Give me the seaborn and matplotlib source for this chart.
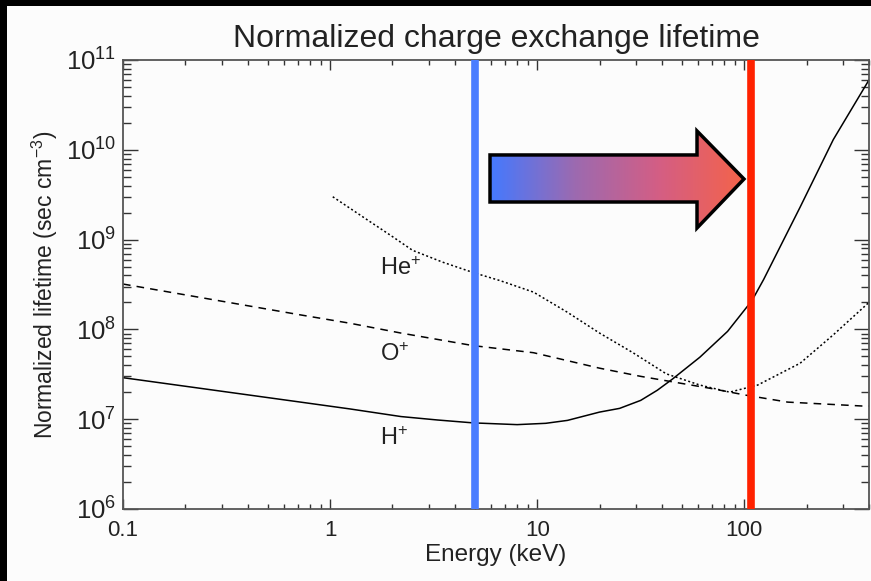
import numpy as np
import pandas as pd
import matplotlib
matplotlib.use("Agg")
import matplotlib.pyplot as plt
import seaborn as sns
from matplotlib.patches import Polygon, Rectangle
from matplotlib.colors import LinearSegmentedColormap

# ---------------- data ----------------
energy_h = [0.1, 0.72, 1.25, 2.2, 3.3, 4.9, 8.0, 11, 14, 20, 25, 31.6, 38, 45, 61, 83, 109, 124,
            186, 269, 400]
life_h = [2.9e7, 1.55e7, 1.3e7, 1.07e7, 9.8e6, 9.1e6, 8.7e6, 9.0e6, 9.7e6, 1.2e7, 1.32e7, 1.62e7,
          2.1e7, 2.8e7, 4.9e7, 9.5e7, 2.1e8, 3.6e8, 2.3e9, 1.3e10, 6.0e10]

energy_o = [0.1, 0.72, 1.25, 2.2, 4.9, 9.6, 20, 31.6, 50, 69, 102, 162, 376, 400]
life_o = [3.2e8, 1.45e8, 1.17e8, 9.1e7, 6.6e7, 5.5e7, 3.7e7, 3.0e7, 2.5e7, 2.2e7, 1.85e7,
          1.55e7, 1.4e7, 1.4e7]

energy_he = [1.03, 1.5, 2.0, 2.5, 3.5, 4.9, 6.6, 9.6, 14, 20, 29, 42, 61, 85, 116, 186, 269, 400]
life_he = [3.0e9, 1.68e9, 1.08e9, 7.6e8, 5.6e8, 4.3e8, 3.5e8, 2.6e8, 1.55e8, 9.1e7, 5.5e7,
           3.2e7, 2.4e7, 2.0e7, 2.4e7, 4.2e7, 8.7e7, 2.0e8]

ion_labels = ["He$^{+}$", "O$^{+}$", "H$^{+}$"]
label_x = [1.75, 1.75, 1.75]
label_y = [4.0e8, 4.4e7, 5.1e6]

vline_energy = [5.0, 108.0]
vline_colors = ["#4a7dff", "#ff2200"]

x_ticks = [0.1, 1, 10, 100]
x_ticklabels = ["0.1", "1", "10", "100"]
y_ticks = [1e6, 1e7, 1e8, 1e9, 1e10, 1e11]
y_ticklabels = ["$10^{6}$", "$10^{7}$", "$10^{8}$", "$10^{9}$", "$10^{10}$", "$10^{11}$"]

# ---------------- style ----------------
sns.set_style("ticks")
plt.rcParams["font.family"] = ["Liberation Sans", "DejaVu Sans"]
plt.rcParams["mathtext.fontset"] = "custom"
plt.rcParams["mathtext.rm"] = "Liberation Sans"
plt.rcParams["mathtext.it"] = "Liberation Sans"
plt.rcParams["mathtext.bf"] = "Liberation Sans"

W, H = 871, 581
fig = plt.figure(figsize=(W / 100, H / 100), dpi=100, facecolor="#fcfcfc")
# black frame on the left / top
fig.patches.append(Rectangle((0, 0), 7 / W, 1, transform=fig.transFigure,
                             facecolor="black", edgecolor="none", zorder=-5))
fig.patches.append(Rectangle((0, 1 - 6 / H), 1, 6 / H, transform=fig.transFigure,
                             facecolor="black", edgecolor="none", zorder=-5))

ax = fig.add_axes([123 / W, 1 - 509 / H, (869 - 123) / W, (509 - 60) / H])
ax.set_facecolor("#fcfcfc")

df_h = pd.DataFrame({"energy": energy_h, "lifetime": life_h})
df_o = pd.DataFrame({"energy": energy_o, "lifetime": life_o})
df_he = pd.DataFrame({"energy": energy_he, "lifetime": life_he})

sns.lineplot(data=df_h, x="energy", y="lifetime", ax=ax, color="black", lw=1.1,
             estimator=None, sort=False)
sns.lineplot(data=df_o, x="energy", y="lifetime", ax=ax, color="black", lw=1.1,
             estimator=None, sort=False, linestyle=(0, (5, 4)))
sns.lineplot(data=df_he, x="energy", y="lifetime", ax=ax, color="black", lw=1.1,
             estimator=None, sort=False, linestyle=(0, (1.3, 1.6)))

for e, c in zip(vline_energy, vline_colors):
    ax.axvline(e, color=c, lw=5.5, zorder=3)

for t, x, y in zip(ion_labels, label_x, label_y):
    ax.text(x, y, t, fontsize=17, color="#222222", ha="left", va="baseline")

ax.set_xscale("log")
ax.set_yscale("log")
ax.set_xlim(0.1, 400)
ax.set_ylim(1e6, 1e11)
ax.set_xticks(x_ticks)
ax.set_xticklabels(x_ticklabels)
ax.set_yticks(y_ticks)
ax.set_yticklabels(y_ticklabels)
ax.tick_params(axis="x", which="major", direction="in", length=7, width=1.0,
               top=True, labelsize=16, pad=8, colors="#333333", labelcolor="#222222")
ax.tick_params(axis="x", which="minor", direction="in", length=3.8, width=1.0,
               top=True, colors="#333333")
ax.tick_params(axis="y", which="major", direction="in", length=11, width=1.0,
               right=True, labelsize=18.5, pad=5, colors="#333333", labelcolor="#222222")
ax.tick_params(axis="y", which="minor", direction="in", length=5.5, width=1.0,
               right=True, colors="#333333")
for s in ax.spines.values():
    s.set_color("#555555")
    s.set_linewidth(1.3)

ax.set_xlabel("Energy (keV)", fontsize=17.5, color="#222222", labelpad=2)
ax.set_ylabel("Normalized lifetime (sec cm$^{-3}$)", fontsize=16.5, color="#222222", labelpad=4)
ax.set_title("Normalized charge exchange lifetime", fontsize=23, color="#222222", pad=9)

# ---------------- gradient arrow ----------------
aax = fig.add_axes([490 / W, 1 - 228 / H, 254 / W, 97 / H])
aax.set_axis_off()
aax.set_xlim(0, 1)
aax.set_ylim(0, 1)
pts = [(0, 0.268), (0.815, 0.268), (0.815, 0.0), (1.0, 0.505), (0.815, 1.0),
       (0.815, 0.753), (0, 0.753)]
cmap = LinearSegmentedColormap.from_list("bluered", ["#4479ff", "#9c6ab0", "#d45e84", "#f4634a"])
grad = np.linspace(0, 1, 256).reshape(1, -1)
im = aax.imshow(grad, extent=[0, 1, 0, 1], aspect="auto", cmap=cmap, zorder=1)
clip = Polygon(pts, closed=True, transform=aax.transData, facecolor="none")
im.set_clip_path(clip)
aax.add_patch(Polygon(pts, closed=True, facecolor="none", edgecolor="black", lw=2.5,
                      joinstyle="miter", clip_on=False, zorder=2))

fig.savefig("out.png", dpi=100, facecolor=fig.get_facecolor())
